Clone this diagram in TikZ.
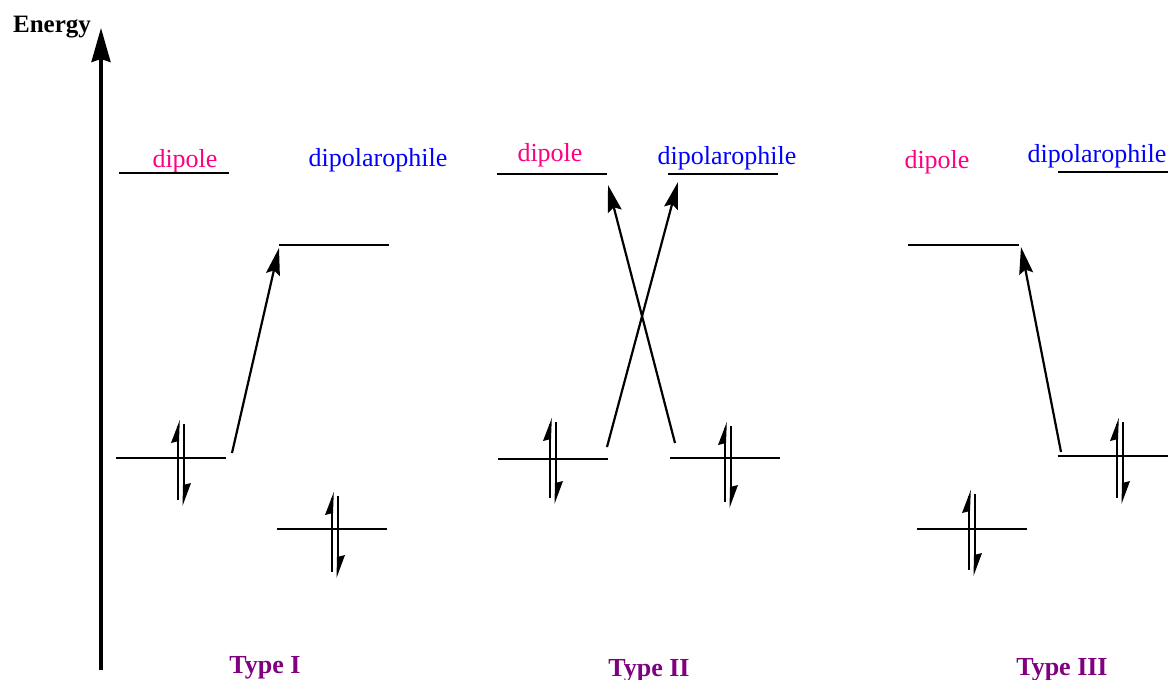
\documentclass[tikz,border=0pt]{standalone}
\usepackage{fontspec}
\setmainfont{Liberation Serif}
\usetikzlibrary{arrows.meta}
\definecolor{dipcol}{RGB}{255,0,128}
\definecolor{phcol}{RGB}{0,0,255}
\definecolor{typecol}{RGB}{128,0,128}
\tikzset{
  level/.style={line width=2pt},
  trans/.style={line width=2.2pt,-{Stealth[length=27pt,width=14pt,inset=4pt]}},
  dlab/.style={anchor=base,text=dipcol,font=\fontsize{26}{30}\selectfont,inner sep=0pt},
  plab/.style={anchor=base,text=phcol,font=\fontsize{26}{30}\selectfont,inner sep=0pt},
  tlab/.style={anchor=base,text=typecol,font=\fontsize{26}{30}\selectfont\bfseries,inner sep=0pt},
  eline/.style={line width=2pt}
}
\newcommand\epair[2]{%
  \begin{scope}[shift={(#1,#2)}]
    \draw[eline] (0,6) -- (0,80);
    \fill (1.8,0) -- (-7,23) -- (1,21) -- cycle;
    \draw[eline] (6,4) -- (6,78);
    \fill (4.5,86) -- (13,63) -- (5,65) -- cycle;
  \end{scope}}
\begin{document}
\begin{tikzpicture}[x=1pt,y=-1pt]
\useasboundingbox (0,0) rectangle (1171,680);
% energy axis
\coordinate (ax0) at (101,670);
\coordinate (ax1) at (101,28);
\draw[line width=3.2pt,-{Stealth[length=34pt,width=19pt,inset=3pt]}] (ax0) -- (ax1);
\node[anchor=base,font=\fontsize{25}{29}\selectfont\bfseries,inner sep=0pt] (energy) at (52,32) {Energy};

% ---------- Type I ----------
\node[dlab] (d1) at (185,167) {dipole};
\node[plab] (p1) at (378,166) {dipolarophile};
\coordinate (L1a) at (119,173); \coordinate (L1b) at (229,173);
\draw[level] (L1a) -- (L1b);
\coordinate (L2a) at (279,245); \coordinate (L2b) at (389,245);
\draw[level] (L2a) -- (L2b);
\coordinate (H1a) at (116,458); \coordinate (H1b) at (226,458);
\draw[level] (H1a) -- (H1b);
\coordinate (H2a) at (277,529); \coordinate (H2b) at (387,529);
\draw[level] (H2a) -- (H2b);
\epair{178}{420}
\epair{332}{492}
\coordinate (t1s) at (232,453); \coordinate (t1e) at (279,248);
\draw[trans] (t1s) -- (t1e);
\node[tlab] (type1) at (265,673) {Type I};

% ---------- Type II ----------
\node[dlab] (d2) at (550,161) {dipole};
\node[plab] (p2) at (727,164) {dipolarophile};
\coordinate (L3a) at (497,174); \coordinate (L3b) at (607,174);
\draw[level] (L3a) -- (L3b);
\coordinate (L4a) at (668,174); \coordinate (L4b) at (778,174);
\draw[level] (L4a) -- (L4b);
\coordinate (H3a) at (498,459); \coordinate (H3b) at (608,459);
\draw[level] (H3a) -- (H3b);
\coordinate (H4a) at (670,458); \coordinate (H4b) at (780,458);
\draw[level] (H4a) -- (H4b);
\epair{550}{418}
\epair{725}{422}
\coordinate (t2s) at (607,447); \coordinate (t2e) at (678,182);
\draw[trans] (t2s) -- (t2e);
\coordinate (t3s) at (675,443); \coordinate (t3e) at (608,185);
\draw[trans] (t3s) -- (t3e);
\node[tlab] (type2) at (649,676) {Type II};

% ---------- Type III ----------
\node[dlab] (d3) at (937,168) {dipole};
\node[plab] (p3) at (1097,162) {dipolarophile};
\coordinate (L5a) at (1058,172); \coordinate (L5b) at (1168,172);
\draw[level] (L5a) -- (L5b);
\coordinate (L6a) at (908,245); \coordinate (L6b) at (1019,245);
\draw[level] (L6a) -- (L6b);
\coordinate (H5a) at (1058,456); \coordinate (H5b) at (1168,456);
\draw[level] (H5a) -- (H5b);
\coordinate (H6a) at (917,529); \coordinate (H6b) at (1027,529);
\draw[level] (H6a) -- (H6b);
\epair{1117}{418}
\epair{969}{490}
\coordinate (t4s) at (1061,452); \coordinate (t4e) at (1021,247);
\draw[trans] (t4s) -- (t4e);
\node[tlab] (type3) at (1062,675) {Type III};
\end{tikzpicture}
\end{document}
